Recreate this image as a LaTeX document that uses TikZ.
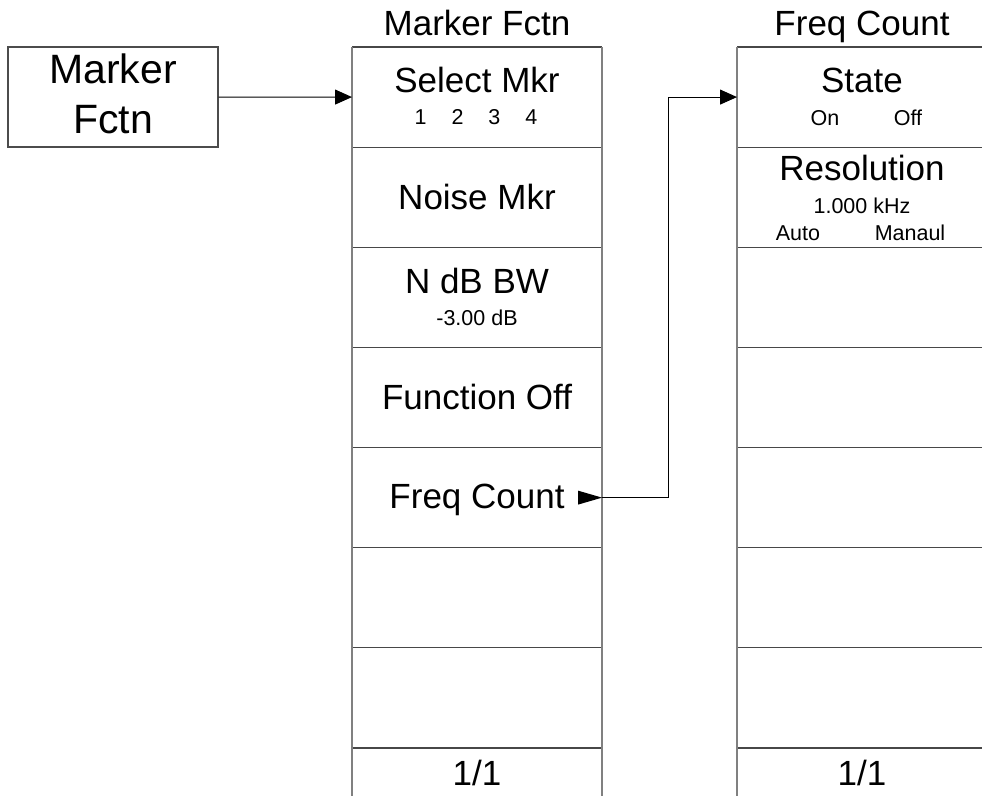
\documentclass[tikz,border=0pt]{standalone}
\usepackage{fontspec}
\setmainfont{Liberation Sans}
\usetikzlibrary{arrows.meta,calc}
\begin{document}
\begin{tikzpicture}[x=1pt,y=-1pt,
  cell/.style={draw=none,minimum width=250pt,minimum height=100.14pt,inner sep=0pt,outer sep=0pt},
  big/.style={font=\fontsize{41}{48}\selectfont,inner sep=0pt,anchor=base},
  lbl/.style={font=\fontsize{35}{42}\selectfont,inner sep=0pt,anchor=base},
  sm/.style={font=\fontsize{21.5}{25}\selectfont,inner sep=0pt,anchor=base},
  vline/.style={draw=black!50,line width=1.3pt},
  hline/.style={draw=black!72,line width=1.2pt},
  conn/.style={draw=black,line width=1pt},
  arr/.style={conn,-{Triangle[length=17pt,width=15pt]}}]
\path[use as bounding box] (0,0) rectangle (982,795);
\clip (0,0) rectangle (982,795);
% left box
\node[draw=black!70,line width=1.3pt,minimum width=210pt,minimum height=100pt,inner sep=0pt] (lb) at (113,97) {};
\node[big] (lbt1) at (113,83) {Marker};
\node[big] (lbt2) at (113,133) {Fctn};
% columns
\foreach \i in {1,...,8} {
  \node[cell] (m\i) at (477,{47+100.14*(\i-0.5)}) {};
  \node[cell] (r\i) at (862,{47+100.14*(\i-0.5)}) {};
}
\foreach \i in {1,...,8} {
  \draw[hline] (m\i.north west) -- (m\i.north east);
  \draw[hline] (r\i.north west) -- (r\i.north east);
}
\draw[vline] (m1.north west) -- (m8.south west);
\draw[vline] (m1.north east) -- (m8.south east);
\draw[vline] (r1.north west) -- (r8.south west);
% titles
\node[lbl] (tm) at (477,35) {Marker Fctn};
\node[lbl] (tr) at (862,35) {Freq Count};
% middle column labels
\node[lbl] (m1a) at (477,92) {Select Mkr};
\node[sm] (m1b) at (476,124) {1\hspace{25pt}2\hspace{25pt}3\hspace{25pt}4};
\node[lbl] (m2a) at (477,209) {Noise Mkr};
\node[lbl] (m3a) at (477,293) {N dB BW};
\node[sm] (m3b) at (477,325) {-3.00 dB};
\node[lbl] (m4a) at (477,409) {Function Off};
\node[lbl] (m5a) at (477,508) {Freq Count};
\node[lbl] (m8a) at (477,785) {1/1};
% right column labels
\node[lbl] (r1a) at (862,92) {State};
\node[sm] (r1b) at (825,125) {On};
\node[sm] (r1c) at (908,125) {Off};
\node[lbl] (r2a) at (862,180) {Resolution};
\node[sm] (r2b) at (862,213) {1.000 kHz};
\node[sm] (r2c) at (798,240) {Auto};
\node[sm] (r2d) at (910,240) {Manaul};
\node[lbl] (r8a) at (862,785) {1/1};
% triangle marker in Freq Count cell
\fill[black] (m5.east) -- ++(-24,-7) -- ++(0,14) -- cycle;
% connectors
\coordinate (bendx) at (668,300);
\draw[arr] (lb.east) -- (m1.west);
\draw[arr] (m5.east) -- (m5.east -| bendx) |- (r1.west);
\end{tikzpicture}
\end{document}
